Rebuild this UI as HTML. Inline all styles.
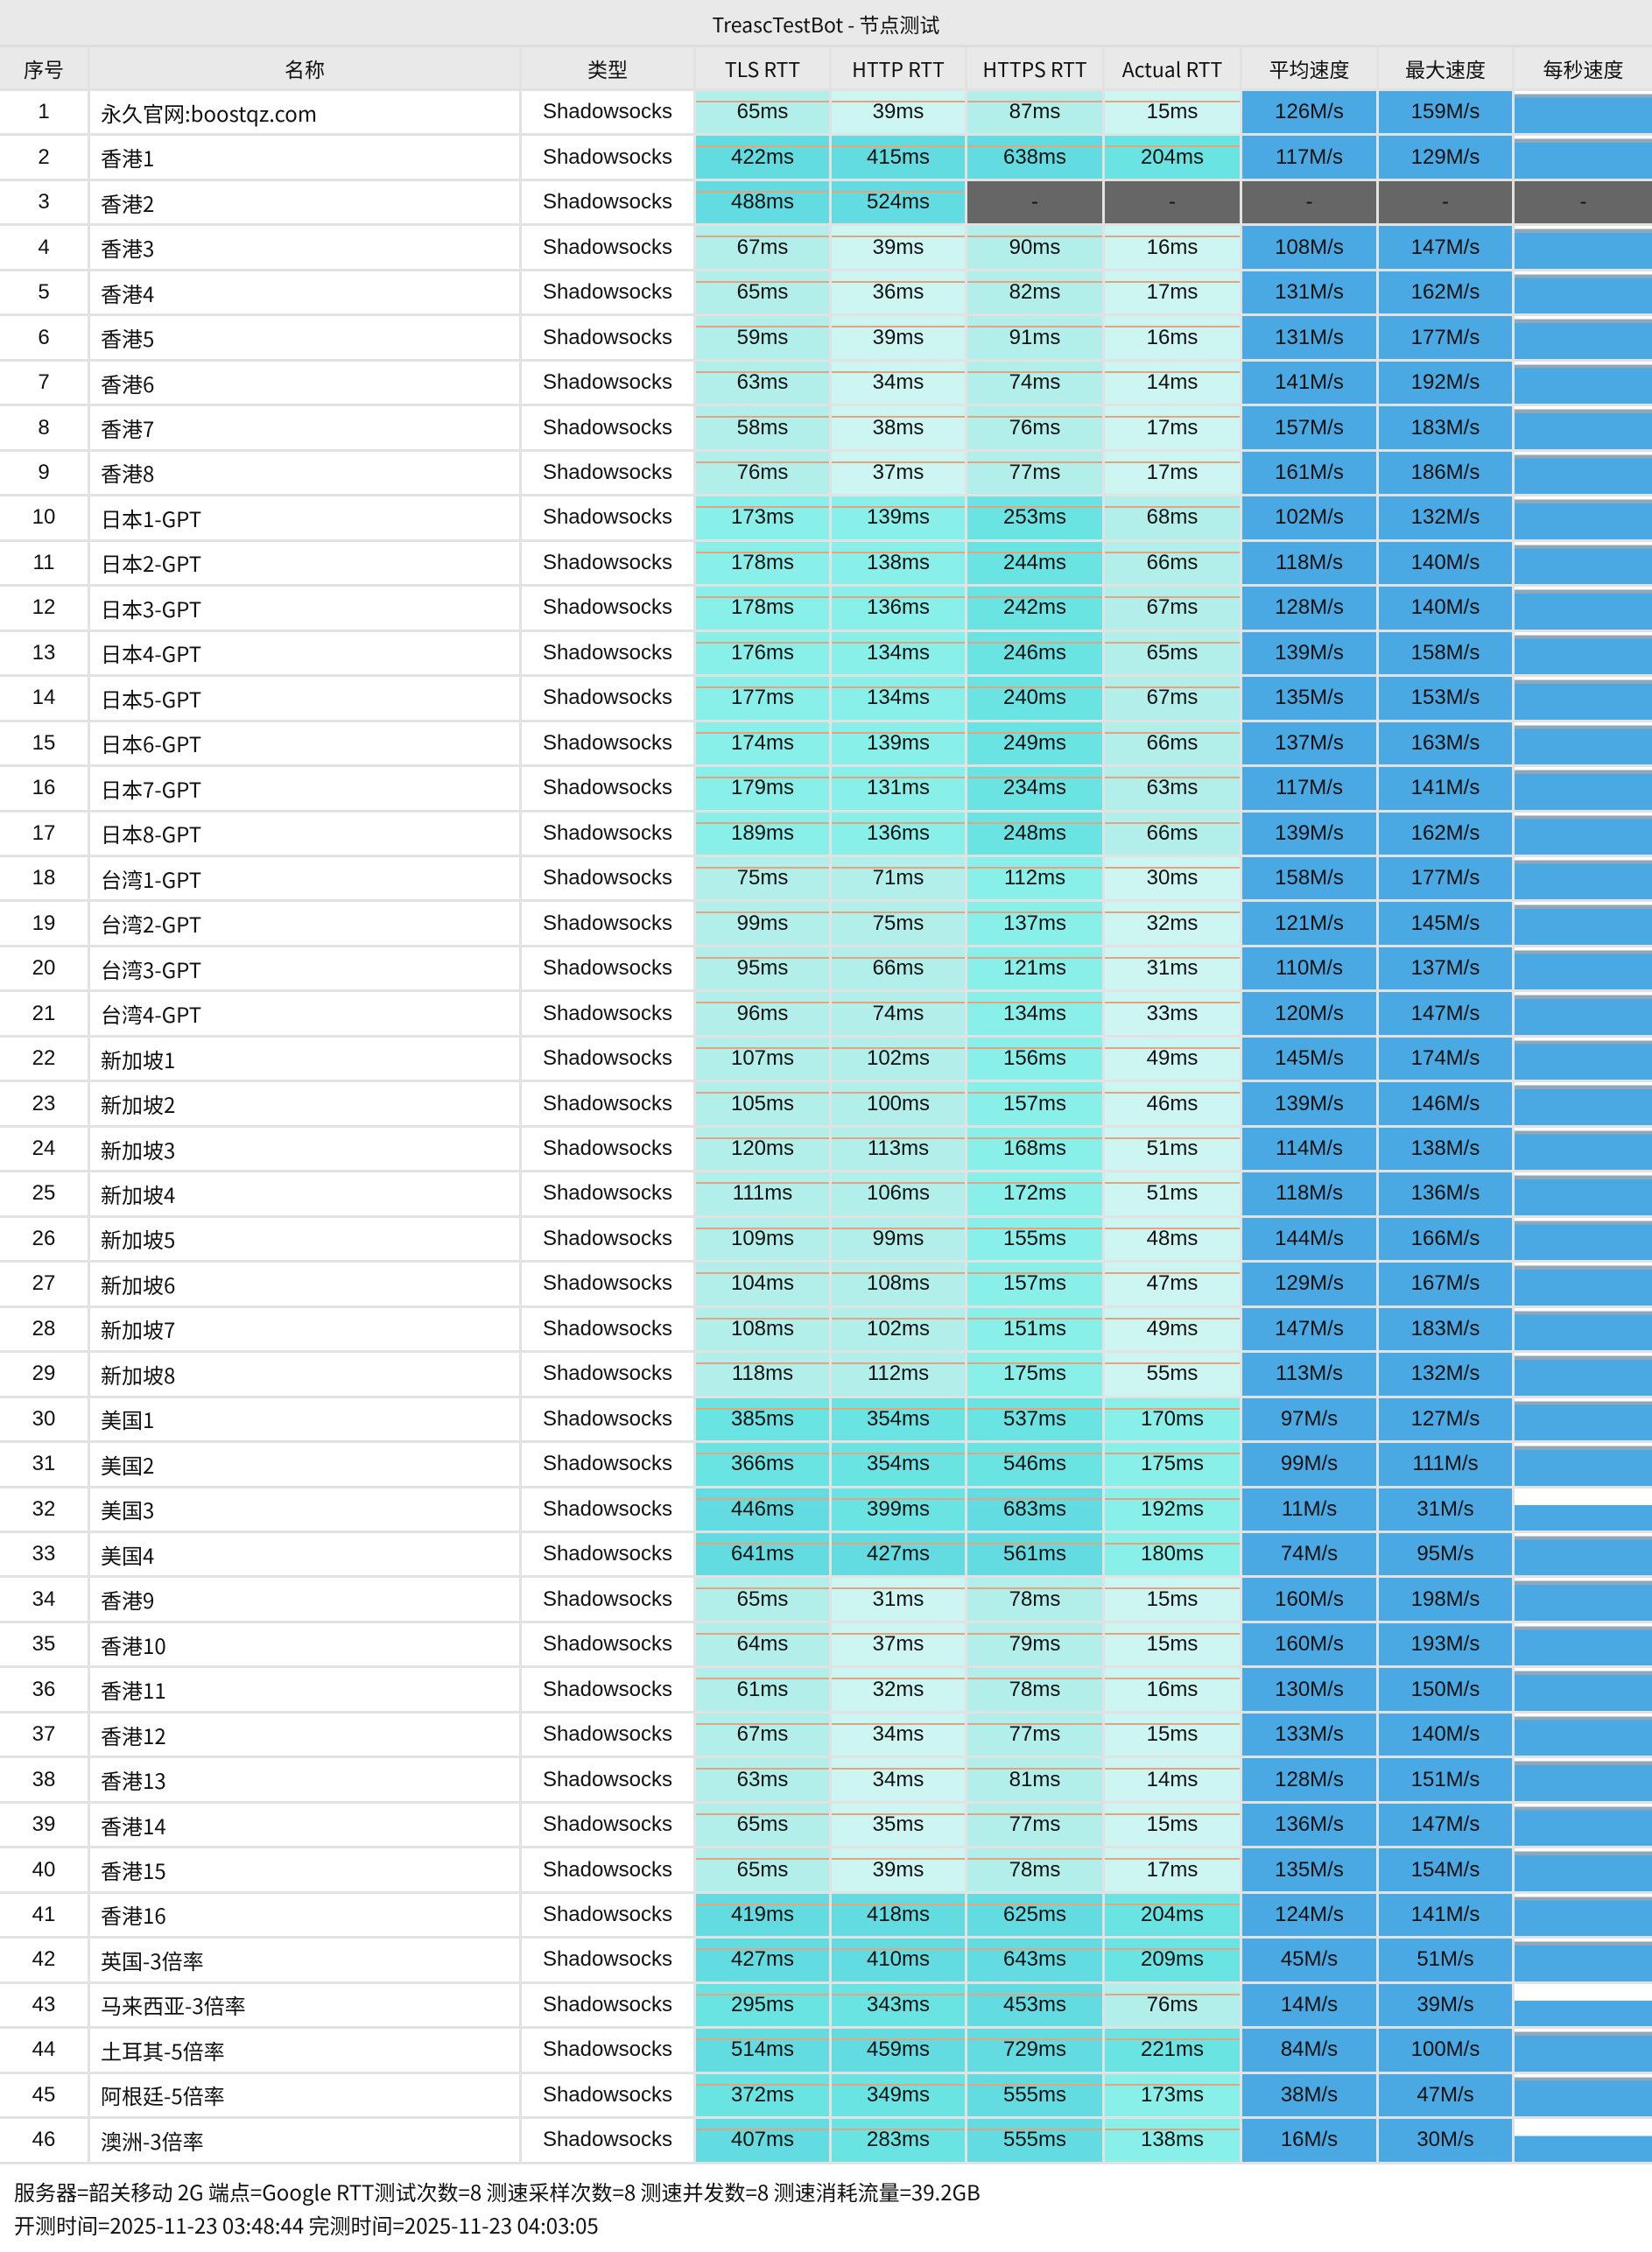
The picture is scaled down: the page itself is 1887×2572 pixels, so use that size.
<!DOCTYPE html>
<html><head><meta charset="utf-8"><style>
*{box-sizing:border-box;margin:0;padding:0}
body{width:1887px;height:2560px;background:#fff;font-family:"Liberation Sans","Noto Sans CJK SC",sans-serif;font-size:24px;color:#111;overflow:hidden}
.t{height:54px;background:#e9e9e9;border-bottom:3px solid #ddd;text-align:center;line-height:54px;font-family:"Noto Sans CJK SC",sans-serif;font-size:23px}
.r{display:grid;grid-template-columns:103px 493px 199px 155px 155px 157px 157px 156px 155px 157px;height:51.48px;border-bottom:3px solid #e2e2e2}
.h{height:50px;background:#e9e9e9}
.r>div{border-right:3px solid #e2e2e2;display:flex;align-items:center;justify-content:center;position:relative;white-space:nowrap}
.r>div:last-child{border-right:none}
.r>div.n{justify-content:flex-start;padding-left:12px;font-family:"Noto Sans CJK SC",sans-serif}
.h>div{font-family:"Noto Sans CJK SC",sans-serif;font-size:23px}
.a{background:#cdf6f3}.b{background:#b2efeb}.c{background:#88efe9}.d{background:#6ae3e3}.e{background:#62dce0}
.a::before,.b::before,.c::before,.d::before,.e::before{content:"";position:absolute;left:0;right:0;top:11px;height:2px;background:#e3a47f}
.s{background:#4aa8e2}.x{background:#666}
.p{background:linear-gradient(#fff 0 7%,#8fa7b8 7% 16%,#4aa8e2 16%)}
.q{background:linear-gradient(#fff 0 40%,#4aa8e2 40%)}
.f{padding:12px 16px;font-family:"Noto Sans CJK SC",sans-serif;font-size:24px;line-height:38px}
</style></head><body>
<div class="t">TreascTestBot - 节点测试</div>
<div class="r h"><div>序号</div><div>名称</div><div>类型</div><div>TLS RTT</div><div>HTTP RTT</div><div>HTTPS RTT</div><div>Actual RTT</div><div>平均速度</div><div>最大速度</div><div>每秒速度</div></div>
<div class="r"><div>1</div><div class="n">永久官网:boostqz.com</div><div>Shadowsocks</div><div class="b">65ms</div><div class="a">39ms</div><div class="b">87ms</div><div class="a">15ms</div><div class="s">126M/s</div><div class="s">159M/s</div><div class="p"></div></div>
<div class="r"><div>2</div><div class="n">香港1</div><div>Shadowsocks</div><div class="e">422ms</div><div class="e">415ms</div><div class="e">638ms</div><div class="d">204ms</div><div class="s">117M/s</div><div class="s">129M/s</div><div class="p"></div></div>
<div class="r"><div>3</div><div class="n">香港2</div><div>Shadowsocks</div><div class="e">488ms</div><div class="e">524ms</div><div class="x">-</div><div class="x">-</div><div class="x">-</div><div class="x">-</div><div class="x">-</div></div>
<div class="r"><div>4</div><div class="n">香港3</div><div>Shadowsocks</div><div class="b">67ms</div><div class="a">39ms</div><div class="b">90ms</div><div class="a">16ms</div><div class="s">108M/s</div><div class="s">147M/s</div><div class="p"></div></div>
<div class="r"><div>5</div><div class="n">香港4</div><div>Shadowsocks</div><div class="b">65ms</div><div class="a">36ms</div><div class="b">82ms</div><div class="a">17ms</div><div class="s">131M/s</div><div class="s">162M/s</div><div class="p"></div></div>
<div class="r"><div>6</div><div class="n">香港5</div><div>Shadowsocks</div><div class="b">59ms</div><div class="a">39ms</div><div class="b">91ms</div><div class="a">16ms</div><div class="s">131M/s</div><div class="s">177M/s</div><div class="p"></div></div>
<div class="r"><div>7</div><div class="n">香港6</div><div>Shadowsocks</div><div class="b">63ms</div><div class="a">34ms</div><div class="b">74ms</div><div class="a">14ms</div><div class="s">141M/s</div><div class="s">192M/s</div><div class="p"></div></div>
<div class="r"><div>8</div><div class="n">香港7</div><div>Shadowsocks</div><div class="b">58ms</div><div class="a">38ms</div><div class="b">76ms</div><div class="a">17ms</div><div class="s">157M/s</div><div class="s">183M/s</div><div class="p"></div></div>
<div class="r"><div>9</div><div class="n">香港8</div><div>Shadowsocks</div><div class="b">76ms</div><div class="a">37ms</div><div class="b">77ms</div><div class="a">17ms</div><div class="s">161M/s</div><div class="s">186M/s</div><div class="p"></div></div>
<div class="r"><div>10</div><div class="n">日本1-GPT</div><div>Shadowsocks</div><div class="c">173ms</div><div class="c">139ms</div><div class="d">253ms</div><div class="b">68ms</div><div class="s">102M/s</div><div class="s">132M/s</div><div class="p"></div></div>
<div class="r"><div>11</div><div class="n">日本2-GPT</div><div>Shadowsocks</div><div class="c">178ms</div><div class="c">138ms</div><div class="d">244ms</div><div class="b">66ms</div><div class="s">118M/s</div><div class="s">140M/s</div><div class="p"></div></div>
<div class="r"><div>12</div><div class="n">日本3-GPT</div><div>Shadowsocks</div><div class="c">178ms</div><div class="c">136ms</div><div class="d">242ms</div><div class="b">67ms</div><div class="s">128M/s</div><div class="s">140M/s</div><div class="p"></div></div>
<div class="r"><div>13</div><div class="n">日本4-GPT</div><div>Shadowsocks</div><div class="c">176ms</div><div class="c">134ms</div><div class="d">246ms</div><div class="b">65ms</div><div class="s">139M/s</div><div class="s">158M/s</div><div class="p"></div></div>
<div class="r"><div>14</div><div class="n">日本5-GPT</div><div>Shadowsocks</div><div class="c">177ms</div><div class="c">134ms</div><div class="d">240ms</div><div class="b">67ms</div><div class="s">135M/s</div><div class="s">153M/s</div><div class="p"></div></div>
<div class="r"><div>15</div><div class="n">日本6-GPT</div><div>Shadowsocks</div><div class="c">174ms</div><div class="c">139ms</div><div class="d">249ms</div><div class="b">66ms</div><div class="s">137M/s</div><div class="s">163M/s</div><div class="p"></div></div>
<div class="r"><div>16</div><div class="n">日本7-GPT</div><div>Shadowsocks</div><div class="c">179ms</div><div class="c">131ms</div><div class="d">234ms</div><div class="b">63ms</div><div class="s">117M/s</div><div class="s">141M/s</div><div class="p"></div></div>
<div class="r"><div>17</div><div class="n">日本8-GPT</div><div>Shadowsocks</div><div class="c">189ms</div><div class="c">136ms</div><div class="d">248ms</div><div class="b">66ms</div><div class="s">139M/s</div><div class="s">162M/s</div><div class="p"></div></div>
<div class="r"><div>18</div><div class="n">台湾1-GPT</div><div>Shadowsocks</div><div class="b">75ms</div><div class="b">71ms</div><div class="c">112ms</div><div class="a">30ms</div><div class="s">158M/s</div><div class="s">177M/s</div><div class="p"></div></div>
<div class="r"><div>19</div><div class="n">台湾2-GPT</div><div>Shadowsocks</div><div class="b">99ms</div><div class="b">75ms</div><div class="c">137ms</div><div class="a">32ms</div><div class="s">121M/s</div><div class="s">145M/s</div><div class="p"></div></div>
<div class="r"><div>20</div><div class="n">台湾3-GPT</div><div>Shadowsocks</div><div class="b">95ms</div><div class="b">66ms</div><div class="c">121ms</div><div class="a">31ms</div><div class="s">110M/s</div><div class="s">137M/s</div><div class="p"></div></div>
<div class="r"><div>21</div><div class="n">台湾4-GPT</div><div>Shadowsocks</div><div class="b">96ms</div><div class="b">74ms</div><div class="c">134ms</div><div class="a">33ms</div><div class="s">120M/s</div><div class="s">147M/s</div><div class="p"></div></div>
<div class="r"><div>22</div><div class="n">新加坡1</div><div>Shadowsocks</div><div class="b">107ms</div><div class="b">102ms</div><div class="c">156ms</div><div class="a">49ms</div><div class="s">145M/s</div><div class="s">174M/s</div><div class="p"></div></div>
<div class="r"><div>23</div><div class="n">新加坡2</div><div>Shadowsocks</div><div class="b">105ms</div><div class="b">100ms</div><div class="c">157ms</div><div class="a">46ms</div><div class="s">139M/s</div><div class="s">146M/s</div><div class="p"></div></div>
<div class="r"><div>24</div><div class="n">新加坡3</div><div>Shadowsocks</div><div class="b">120ms</div><div class="b">113ms</div><div class="c">168ms</div><div class="a">51ms</div><div class="s">114M/s</div><div class="s">138M/s</div><div class="p"></div></div>
<div class="r"><div>25</div><div class="n">新加坡4</div><div>Shadowsocks</div><div class="b">111ms</div><div class="b">106ms</div><div class="c">172ms</div><div class="a">51ms</div><div class="s">118M/s</div><div class="s">136M/s</div><div class="p"></div></div>
<div class="r"><div>26</div><div class="n">新加坡5</div><div>Shadowsocks</div><div class="b">109ms</div><div class="b">99ms</div><div class="c">155ms</div><div class="a">48ms</div><div class="s">144M/s</div><div class="s">166M/s</div><div class="p"></div></div>
<div class="r"><div>27</div><div class="n">新加坡6</div><div>Shadowsocks</div><div class="b">104ms</div><div class="b">108ms</div><div class="c">157ms</div><div class="a">47ms</div><div class="s">129M/s</div><div class="s">167M/s</div><div class="p"></div></div>
<div class="r"><div>28</div><div class="n">新加坡7</div><div>Shadowsocks</div><div class="b">108ms</div><div class="b">102ms</div><div class="c">151ms</div><div class="a">49ms</div><div class="s">147M/s</div><div class="s">183M/s</div><div class="p"></div></div>
<div class="r"><div>29</div><div class="n">新加坡8</div><div>Shadowsocks</div><div class="b">118ms</div><div class="b">112ms</div><div class="c">175ms</div><div class="a">55ms</div><div class="s">113M/s</div><div class="s">132M/s</div><div class="p"></div></div>
<div class="r"><div>30</div><div class="n">美国1</div><div>Shadowsocks</div><div class="d">385ms</div><div class="d">354ms</div><div class="d">537ms</div><div class="c">170ms</div><div class="s">97M/s</div><div class="s">127M/s</div><div class="p"></div></div>
<div class="r"><div>31</div><div class="n">美国2</div><div>Shadowsocks</div><div class="d">366ms</div><div class="d">354ms</div><div class="d">546ms</div><div class="c">175ms</div><div class="s">99M/s</div><div class="s">111M/s</div><div class="p"></div></div>
<div class="r"><div>32</div><div class="n">美国3</div><div>Shadowsocks</div><div class="e">446ms</div><div class="d">399ms</div><div class="e">683ms</div><div class="c">192ms</div><div class="s">11M/s</div><div class="s">31M/s</div><div class="q"></div></div>
<div class="r"><div>33</div><div class="n">美国4</div><div>Shadowsocks</div><div class="e">641ms</div><div class="e">427ms</div><div class="e">561ms</div><div class="c">180ms</div><div class="s">74M/s</div><div class="s">95M/s</div><div class="p"></div></div>
<div class="r"><div>34</div><div class="n">香港9</div><div>Shadowsocks</div><div class="b">65ms</div><div class="a">31ms</div><div class="b">78ms</div><div class="a">15ms</div><div class="s">160M/s</div><div class="s">198M/s</div><div class="p"></div></div>
<div class="r"><div>35</div><div class="n">香港10</div><div>Shadowsocks</div><div class="b">64ms</div><div class="a">37ms</div><div class="b">79ms</div><div class="a">15ms</div><div class="s">160M/s</div><div class="s">193M/s</div><div class="p"></div></div>
<div class="r"><div>36</div><div class="n">香港11</div><div>Shadowsocks</div><div class="b">61ms</div><div class="a">32ms</div><div class="b">78ms</div><div class="a">16ms</div><div class="s">130M/s</div><div class="s">150M/s</div><div class="p"></div></div>
<div class="r"><div>37</div><div class="n">香港12</div><div>Shadowsocks</div><div class="b">67ms</div><div class="a">34ms</div><div class="b">77ms</div><div class="a">15ms</div><div class="s">133M/s</div><div class="s">140M/s</div><div class="p"></div></div>
<div class="r"><div>38</div><div class="n">香港13</div><div>Shadowsocks</div><div class="b">63ms</div><div class="a">34ms</div><div class="b">81ms</div><div class="a">14ms</div><div class="s">128M/s</div><div class="s">151M/s</div><div class="p"></div></div>
<div class="r"><div>39</div><div class="n">香港14</div><div>Shadowsocks</div><div class="b">65ms</div><div class="a">35ms</div><div class="b">77ms</div><div class="a">15ms</div><div class="s">136M/s</div><div class="s">147M/s</div><div class="p"></div></div>
<div class="r"><div>40</div><div class="n">香港15</div><div>Shadowsocks</div><div class="b">65ms</div><div class="a">39ms</div><div class="b">78ms</div><div class="a">17ms</div><div class="s">135M/s</div><div class="s">154M/s</div><div class="p"></div></div>
<div class="r"><div>41</div><div class="n">香港16</div><div>Shadowsocks</div><div class="e">419ms</div><div class="e">418ms</div><div class="e">625ms</div><div class="d">204ms</div><div class="s">124M/s</div><div class="s">141M/s</div><div class="p"></div></div>
<div class="r"><div>42</div><div class="n">英国-3倍率</div><div>Shadowsocks</div><div class="e">427ms</div><div class="e">410ms</div><div class="e">643ms</div><div class="d">209ms</div><div class="s">45M/s</div><div class="s">51M/s</div><div class="p"></div></div>
<div class="r"><div>43</div><div class="n">马来西亚-3倍率</div><div>Shadowsocks</div><div class="d">295ms</div><div class="d">343ms</div><div class="e">453ms</div><div class="b">76ms</div><div class="s">14M/s</div><div class="s">39M/s</div><div class="q"></div></div>
<div class="r"><div>44</div><div class="n">土耳其-5倍率</div><div>Shadowsocks</div><div class="e">514ms</div><div class="e">459ms</div><div class="e">729ms</div><div class="d">221ms</div><div class="s">84M/s</div><div class="s">100M/s</div><div class="p"></div></div>
<div class="r"><div>45</div><div class="n">阿根廷-5倍率</div><div>Shadowsocks</div><div class="d">372ms</div><div class="d">349ms</div><div class="e">555ms</div><div class="c">173ms</div><div class="s">38M/s</div><div class="s">47M/s</div><div class="p"></div></div>
<div class="r"><div>46</div><div class="n">澳洲-3倍率</div><div>Shadowsocks</div><div class="e">407ms</div><div class="d">283ms</div><div class="e">555ms</div><div class="c">138ms</div><div class="s">16M/s</div><div class="s">30M/s</div><div class="q"></div></div>
<div class="f">服务器=韶关移动 2G 端点=Google RTT测试次数=8 测速采样次数=8 测速并发数=8 测速消耗流量=39.2GB<br>开测时间=2025-11-23 03:48:44 完测时间=2025-11-23 04:03:05</div>
</body></html>
